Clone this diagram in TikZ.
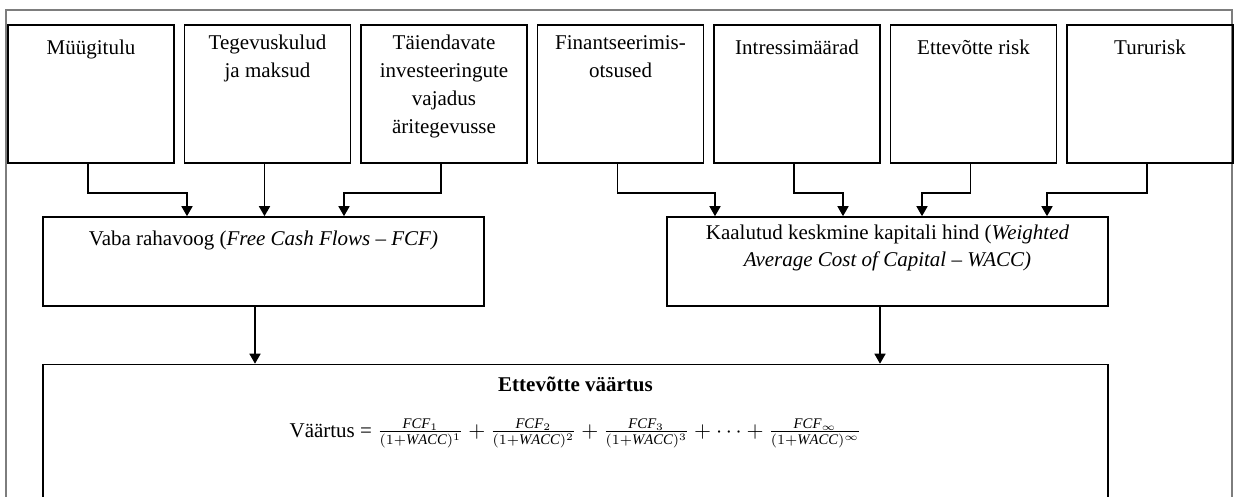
\documentclass[tikz,border=0pt]{standalone}
\usepackage{fontspec}
\setmainfont{Liberation Serif}
\usetikzlibrary{arrows.meta,positioning,calc}
\definecolor{ink}{RGB}{0,0,0}
\definecolor{rim}{RGB}{125,125,125}
\tikzset{
  >={Triangle[length=5pt,width=5.5pt]},
  box/.style={draw=ink,line width=0.8pt,inner sep=0pt,minimum width=#1},
  box/.default=83pt,
  in box/.style={box,minimum height=69pt},
  mid box/.style={box=220.5pt,minimum height=44.5pt},
  value box/.style={box=532.5pt,minimum height=85pt},
  % first line gets a strut, so the north anchor sits 9.8pt above its baseline
  txt/.style={align=center,inner sep=0pt,text=ink,anchor=north,
    font=\fontsize{10.5}{14}\selectfont,execute at begin node=\strut},
  flow/.style={->,line width=0.8pt,draw=#1},
  flow/.default=ink,
  frame/.style={draw=rim,line width=1pt},
}

\begin{document}
\begin{tikzpicture}[x=0.5pt,y=-0.5pt]
    \useasboundingbox (0,0) rectangle (1235,497);
    \clip (0,0) rectangle (1235,497);
    \draw[frame] (6,540) |- (1232,10) -- (1232,540);
    \foreach \t [count=\i] in {
      Müügitulu,
      Tegevuskulud\\ja maksud,
      Täiendavate\\investeeringute\\vajadus\\äritegevusse,
      Finantseerimis-\\otsused,
      Intressimäärad,
      Ettevõtte risk,
      Tururisk}
    {
      \node[in box] (b\i) at ({91+(\i-1)*176.5},94) {};
      \node[txt] at ([yshift=-5.3pt]b\i.north) {\t};
    }
    \node[mid box] (fcf) at (263.5,261.5) {};
    \node[txt] at ([yshift=-4.4pt]fcf.north)
      {Vaba rahavoog (\textit{Free Cash Flows – FCF)}};
    \node[mid box] (wacc) at (887.5,261.5) {};
    \node[txt,font=\fontsize{10.5}{13.5}\selectfont] at ([yshift=-4.4pt]wacc.north)
      {Kaalutud keskmine kapitali hind (\textit{Weighted}\\\textit{Average Cost of Capital – WACC)}};
    \node[value box] (val) at (575.5,449.5) {};
    \node[txt,font=\fontsize{10.5}{14}\selectfont\bfseries] at ([yshift=-3.9pt]val.north)
      {Ettevõtte väärtus};
    \node[txt] at ([yshift=-26.7pt]val.north)
      {Väärtus = $\frac{\mathit{FCF}_1}{(1+\mathit{WACC})^1}+\frac{\mathit{FCF}_2}{(1+\mathit{WACC})^2}
        +\frac{\mathit{FCF}_3}{(1+\mathit{WACC})^3}+\cdots+\frac{\mathit{FCF}_\infty}{(1+\mathit{WACC})^\infty}$};
    \foreach \s/\dx in {1/-38.25pt,2/0.5pt,3/40.25pt}
      \draw[flow] ([xshift=-1.5pt]b\s.south) -- ++(0,29) -| ([xshift=\dx]fcf.north);
    \foreach \s/\dx in {4/-86.25pt,5/-22.25pt,6/17.25pt,7/79.75pt}
      \draw[flow] ([xshift=-1.5pt]b\s.south) -- ++(0,29) -| ([xshift=\dx]wacc.north);
    \draw[flow] ([xshift=-4.25pt]fcf.south) -- ([xshift=-4.25pt]fcf.south |- val.north);
    \draw[flow] ([xshift=-3.75pt]wacc.south) -- ([xshift=-3.75pt]wacc.south |- val.north);
\end{tikzpicture}
\end{document}
